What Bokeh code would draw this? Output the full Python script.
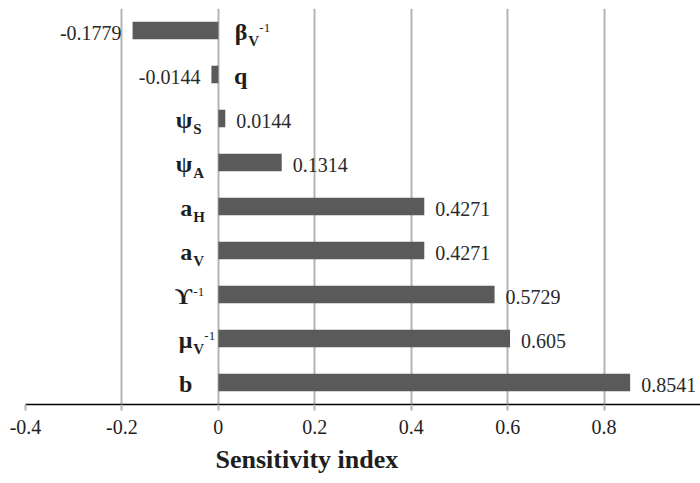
from bokeh.plotting import figure
from bokeh.models import ColumnDataSource, Range1d, FixedTicker, NumeralTickFormatter, Title
from bokeh.core.properties import value
from bokeh.embed import file_html
from bokeh.resources import INLINE

# ---- data (top to bottom) ----
symbols = ["\u03b2", "q", "\u03c8", "\u03c8", "a", "a", "\u03d2", "\u03bc", "b"]
subscripts = ["V", "", "S", "A", "H", "V", "", "V", ""]
superscripts = ["-1", "", "", "", "", "", "-1", "-1", ""]
sensitivity = [-0.1779, -0.0144, 0.0144, 0.1314, 0.4271, 0.4271, 0.5729, 0.605, 0.8541]
value_labels = ["-0.1779", "-0.0144", "0.0144", "0.1314", "0.4271", "0.4271", "0.5729", "0.605", "0.8541"]
x_ticks = [-0.4, -0.2, 0, 0.2, 0.4, 0.6, 0.8]
grid_ticks = [-0.4, -0.2, 0, 0.2, 0.4, 0.6, 0.8, 1.0]
x_title = "Sensitivity index"

SERIF = "Liberation Serif"
BAR = "#5a5a5a"
GRID = "#b4b4b4"
TXT = "#1e1e1e"

n = len(sensitivity)
rows = list(range(n))

p = figure(width=700, height=483, output_backend="svg", toolbar_location=None,
           x_range=Range1d(-0.4, 1.0), y_range=Range1d(n - 0.5, -0.5),
           min_border_left=25, min_border_right=0, min_border_top=8, min_border_bottom=79)
p.outline_line_color = None
p.background_fill_color = "white"
p.border_fill_color = "white"

bars = ColumnDataSource(dict(y=rows, right=sensitivity))
p.hbar(y="y", left=0, right="right", height=0.4, source=bars, fill_color=BAR, line_color=None)

# axes
p.yaxis.visible = False
p.ygrid.visible = False
p.xgrid.ticker = FixedTicker(ticks=grid_ticks)
p.xgrid.grid_line_color = GRID
p.xgrid.grid_line_width = 2
p.xgrid.level = "underlay"
xa = p.xaxis[0]
xa.ticker = FixedTicker(ticks=x_ticks)
xa.formatter = NumeralTickFormatter(format="0.[0]")
xa.axis_line_color = "black"
xa.axis_line_width = 1.5
xa.major_tick_line_color = GRID
xa.major_tick_line_width = 2
xa.major_tick_out = 6
xa.major_tick_in = 0
xa.minor_tick_line_color = None
xa.major_label_text_font = SERIF
xa.major_label_text_font_size = "20px"
xa.major_label_text_color = TXT
xa.major_label_standoff = 9

# axis title, placed where the reference has it (left of the frame centre)
p.add_layout(Title(text=x_title, align="left", offset=190, standoff=12, text_font=SERIF,
                   text_font_size="26px", text_font_style="bold", text_color=TXT), "below")

# value labels
pos = [i for i in rows if sensitivity[i] >= 0]
neg = [i for i in rows if sensitivity[i] < 0]
for idx, align, off in ((pos, "left", 11), (neg, "right", -11)):
    src = ColumnDataSource(dict(x=[sensitivity[i] for i in idx], y=[rows[i] for i in idx],
                                t=[value_labels[i] for i in idx]))
    p.text(x="x", y="y", text="t", source=src, text_font=value(SERIF), text_font_size="20px",
           text_color="#2a2a2a", text_align=align, text_baseline="middle", x_offset=off, y_offset=2)

# category labels near the zero line
for idx, end in ((pos, -26), (neg, 29)):
    zeros = [0] * len(idx)
    ys = [rows[i] for i in idx]
    main = ColumnDataSource(dict(x=zeros, y=ys, t=[symbols[i] for i in idx]))
    p.text(x="x", y="y", text="t", source=main, text_font=value(SERIF), text_font_size="24px",
           text_font_style="bold", text_color=TXT, text_align="right", text_baseline="alphabetic",
           x_offset=end, y_offset=1)
    sub = ColumnDataSource(dict(x=zeros, y=ys, t=[subscripts[i] for i in idx]))
    p.text(x="x", y="y", text="t", source=sub, text_font=value(SERIF), text_font_size="15px",
           text_font_style="bold", text_color=TXT, text_align="left", text_baseline="alphabetic",
           x_offset=end + 1, y_offset=10)
    sup_off = [end + (12 if subscripts[i] else 1) for i in idx]
    sup = ColumnDataSource(dict(x=zeros, y=ys, t=[superscripts[i] for i in idx], xo=sup_off))
    p.text(x="x", y="y", text="t", source=sup, text_font=value(SERIF), text_font_size="13px",
           text_color=TXT, text_align="left", text_baseline="alphabetic",
           x_offset="xo", y_offset=-3)

open("out.html", "w").write(file_html(p, INLINE))
